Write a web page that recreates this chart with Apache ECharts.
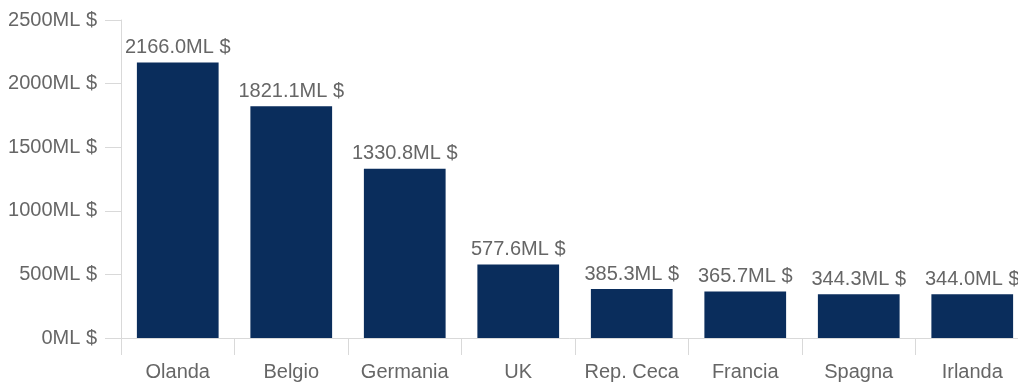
<!DOCTYPE html>
<html>
<head>
<meta charset="utf-8">
<script src="https://cdn.jsdelivr.net/npm/echarts@6/dist/echarts.min.js"></script>
<style>
  html, body { margin: 0; padding: 0; background: #fff; overflow: hidden; }
  #chart { width: 1018px; height: 387px; }
</style>
</head>
<body>
<div id="chart"></div>
<script>
// Export values by destination country, in millions of dollars
const countries = ['Olanda', 'Belgio', 'Germania', 'UK', 'Rep. Ceca', 'Francia', 'Spagna', 'Irlanda'];
const values = [2166.0, 1821.1, 1330.8, 577.6, 385.3, 365.7, 344.3, 344.0];
const yTicks = { min: 0, max: 2500, interval: 500 };

const textColor = '#666666';
const lineColor = '#d9d9d9';
const font = 'Arial, "Liberation Sans", sans-serif';

const chart = echarts.init(document.getElementById('chart'), null, { renderer: 'canvas' });
chart.setOption({
  animation: false,
  grid: {
    left: 121, top: 20, width: 908, height: 318,
    containLabel: false,
    outerBoundsMode: 'none'
  },
  xAxis: {
    type: 'category',
    data: countries,
    axisLine: { lineStyle: { color: lineColor } },
    axisTick: { show: true, length: 17, lineStyle: { color: lineColor } },
    axisLabel: { color: textColor, fontSize: 20, fontFamily: font, margin: 24, interval: 0 }
  },
  yAxis: {
    type: 'value',
    min: yTicks.min,
    max: yTicks.max,
    interval: yTicks.interval,
    axisLine: { show: true, lineStyle: { color: lineColor } },
    axisTick: { show: true, length: 16, lineStyle: { color: lineColor } },
    splitLine: { show: false },
    axisLabel: {
      color: textColor, fontSize: 20, fontFamily: font, margin: 24,
      formatter: v => v + 'ML $'
    }
  },
  series: [{
    type: 'bar',
    data: values,
    barWidth: '72%',
    itemStyle: { color: '#0a2d5c' },
    label: {
      show: true,
      position: 'top',
      distance: 5,
      color: textColor,
      fontSize: 20,
      fontFamily: font,
      formatter: p => p.value.toFixed(1) + 'ML $'
    }
  }]
});
</script>
</body>
</html>
